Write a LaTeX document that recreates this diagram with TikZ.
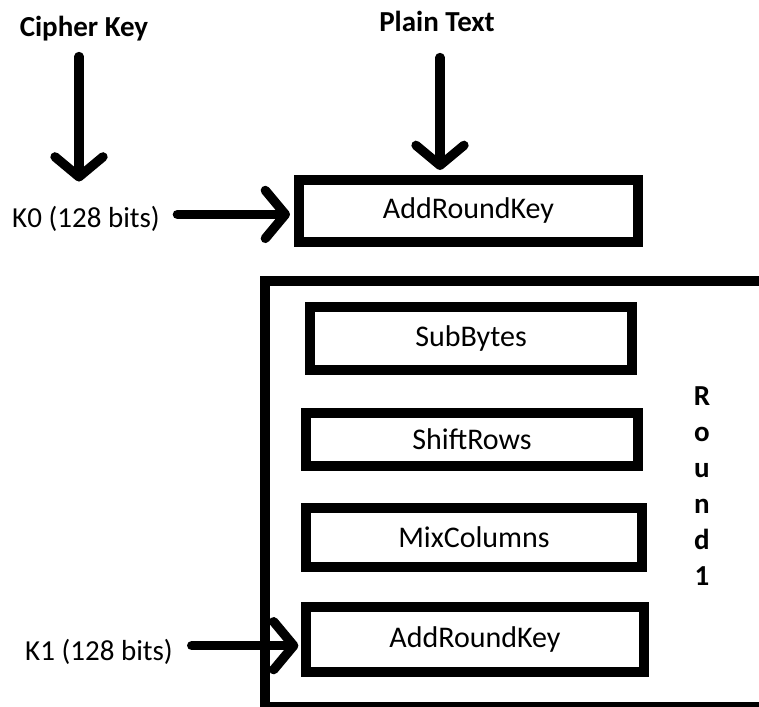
\documentclass[tikz,border=0pt]{standalone}
\usepackage{fontspec}
\setmainfont{Carlito}
\usetikzlibrary{arrows.meta}

\tikzset{
	stage/.style={draw,line width=7.5pt,inner sep=0pt,font=\fontsize{22.5pt}{27pt}\selectfont},
	keytext/.style={inner sep=0pt,anchor=base,font=\fontsize{21.75pt}{27pt}\selectfont},
	arr/.style={line width=7pt,line cap=round,-{Straight Barb[length=15pt,width=36pt,line cap=round,line join=round]}}
}

\begin{document}
\begin{tikzpicture}[x=0.75pt,y=-0.75pt]
			\useasboundingbox (0,0) rectangle (759,706);
			\clip (0,0) rectangle (759,706);

			\node[keytext,font=\fontsize{21.75pt}{27pt}\selectfont\bfseries] (cipher) at (84,37) {Cipher Key};
			\node[keytext,font=\fontsize{21.75pt}{27pt}\selectfont\bfseries] (plain) at (437,32) {Plain Text};
			\node[keytext] (k0) at (86,227) {K0 (128 bits)};
			\node[keytext] (k1) at (99,660) {K1 (128 bits)};

			\node[stage,minimum width=254.25pt,minimum height=46.5pt] (ark0) at (468.5,211) {AddRoundKey};

			\node[draw,line width=7.5pt,minimum width=475.9pt,minimum height=319.5pt] (round1) at (582.75,494) {};
			\node[stage,minimum width=241.5pt,minimum height=47.25pt] (subbytes) at (471,338.5) {SubBytes};
			\node[stage,minimum width=249pt,minimum height=39.75pt] (shiftrows) at (472,439.5) {ShiftRows};
			\node[stage,minimum width=252pt,minimum height=44.25pt] (mixcolumns) at (474,537.5) {MixColumns};
			\node[stage,minimum width=253.5pt,minimum height=48.75pt] (ark1) at (475,639.5) {AddRoundKey};
			\node[inner sep=0pt,align=center,font=\fontsize{21.75pt}{27pt}\selectfont\bfseries] (roundname) at (702,486.5) {R\\o\\u\\n\\d\\1};

			\draw[arr,shorten <=11pt,shorten >=18pt] ([xshift=-3.75pt]cipher.south) -- ([xshift=-3.75pt]cipher.south |- k0.north);
			\draw[arr,shorten <=18.75pt,shorten >=3.75pt] ([xshift=2.25pt]plain.south) -- ([xshift=2.25pt]plain.south |- ark0.north);
			\draw[arr,shorten <=13pt,shorten >=3pt] ([yshift=3pt]k0.east) -- ([yshift=3pt]k0.east -| ark0.west);
			\draw[arr,shorten <=14pt,shorten >=2pt] ([yshift=4.3pt]k1.east) -- ([yshift=4.3pt]k1.east -| ark1.west);
		\end{tikzpicture}
\end{document}
